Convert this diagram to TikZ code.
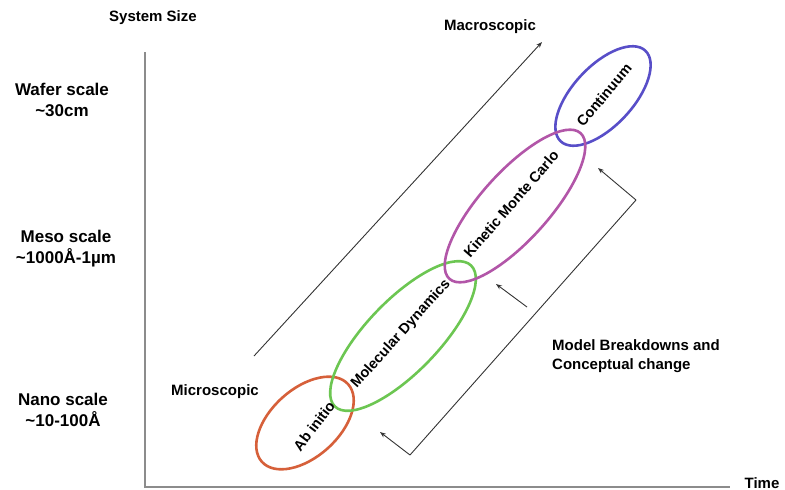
\documentclass[tikz,border=0pt]{standalone}
\usepackage{fontspec}
\setmainfont{Liberation Sans}
\usetikzlibrary{arrows.meta,shapes.geometric}
\definecolor{abcol}{RGB}{214,96,58}
\definecolor{mdcol}{RGB}{108,198,82}
\definecolor{kmccol}{RGB}{178,86,168}
\definecolor{concol}{RGB}{88,78,200}
\definecolor{axiscol}{RGB}{140,140,140}
\begin{document}
\begin{tikzpicture}[x=1pt,y=-1pt,
 lbl/.style={font=\bfseries\fontsize{15}{19}\selectfont, inner sep=0pt},
 ovlbl/.style={font=\bfseries\fontsize{14.5}{18}\selectfont, inner sep=0pt},
 scalelbl/.style={font=\bfseries\fontsize{17}{21}\selectfont, align=center, inner sep=0pt},
 oval/.style={ellipse, draw, line width=2.6pt, inner sep=0pt},
 thinarrow/.style={draw=black!80, line width=0.9pt, -{Stealth[length=6pt,width=4.5pt]}},
 thinline/.style={draw=black!80, line width=0.9pt},
 axis/.style={draw=axiscol, line width=1.8pt}]
\useasboundingbox (0,0) rectangle (785,490);

% axes
\coordinate (origin) at (145,487);
\coordinate (ytop) at (145,52);
\coordinate (xend) at (730,487);
\draw[axis] (ytop) -- (origin) -- (xend);

\node[lbl] (syssize) at (153,18) {System Size};
\node[lbl] (time) at (762,483) {Time};
\node[scalelbl] (wafer) at (62,100) {Wafer scale\\\textasciitilde30cm};
\node[scalelbl] (meso) at (66,249) {Meso scale\\\textasciitilde1000Å-1µm};
\node[scalelbl] (nano) at (63,410) {Nano scale\\\textasciitilde10-100Å};

\node[lbl] (micro) at (215,392) {Microscopic};
\node[lbl] (macro) at (490,27) {Macroscopic};
\coordinate (dstart) at (254,356);
\coordinate (dend) at (542,42);
\draw[thinarrow] (dstart) -- (dend);

% ellipses
\node[oval, draw=concol, rotate=47, minimum width=124pt, minimum height=60pt] (conov) at (603,96) {};
\node[oval, draw=abcol, rotate=42, minimum width=116pt, minimum height=68pt] (abov) at (305,423) {};
\node[oval, draw=mdcol, rotate=46, minimum width=196pt, minimum height=72pt] (mdov) at (403,336) {};
\node[oval, draw=kmccol, rotate=48, minimum width=196pt, minimum height=68pt] (kmcov) at (515,206) {};

\node[ovlbl, rotate=53] (abt) at (314,426) {Ab initio};
\node[ovlbl, rotate=48] (mdt) at (401,334) {Molecular Dynamics};
\node[ovlbl, rotate=49] (kmct) at (511,204) {Kinetic Monte Carlo};
\node[ovlbl, rotate=50] (cont) at (604,95) {Continuum};

% model breakdown bracket
\coordinate (bl) at (410,455);
\coordinate (tr) at (636,200);
\coordinate (bltip) at (380,432);
\coordinate (trtip) at (598,168);
\coordinate (midtail) at (527,307);
\coordinate (midtip) at (496,284);
\draw[thinline] (bl) -- (tr);
\draw[thinarrow] (bl) -- (bltip);
\draw[thinarrow] (tr) -- (trtip);
\draw[thinarrow] (midtail) -- (midtip);

\node[lbl, align=left, anchor=west] (model) at (552,356) {Model Breakdowns and\\Conceptual change};
\end{tikzpicture}
\end{document}
